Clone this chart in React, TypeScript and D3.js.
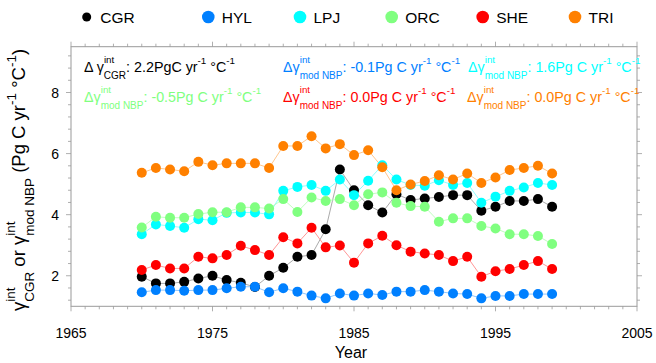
import React from "react";
import * as d3 from "d3";

const years = [1970, 1971, 1972, 1973, 1974, 1975, 1976, 1977, 1978, 1979, 1980, 1981, 1982, 1983, 1984, 1985, 1986, 1987, 1988, 1989, 1990, 1991, 1992, 1993, 1994, 1995, 1996, 1997, 1998, 1999];

const CGR = [1.97, 1.75, 1.75, 1.8, 1.91, 2.0, 1.86, 1.77, 1.63, 2.0, 2.26, 2.62, 2.68, 3.52, 5.48, 4.8, 4.31, 4.07, 4.67, 4.48, 4.53, 4.58, 4.64, 4.64, 4.13, 4.26, 4.45, 4.45, 4.51, 4.26];
const HYL = [1.46, 1.53, 1.53, 1.51, 1.53, 1.53, 1.59, 1.64, 1.64, 1.46, 1.59, 1.48, 1.35, 1.26, 1.42, 1.35, 1.42, 1.37, 1.48, 1.48, 1.53, 1.48, 1.42, 1.4, 1.26, 1.34, 1.34, 1.4, 1.4, 1.4];
const LPJ = [3.36, 3.68, 3.63, 3.57, 3.85, 3.82, 4.06, 4.07, 4.07, 4.01, 4.78, 4.91, 4.97, 4.78, 5.15, 4.64, 5.11, 5.62, 5.15, 4.97, 4.95, 5.13, 4.97, 5.04, 4.39, 4.59, 4.78, 4.89, 5.04, 4.97];
const ORC = [3.58, 3.93, 3.9, 3.9, 4.02, 4.08, 4.08, 4.24, 4.24, 4.2, 4.51, 4.09, 4.56, 4.45, 4.51, 4.31, 4.67, 4.73, 4.39, 4.28, 4.26, 3.77, 3.88, 3.88, 3.63, 3.55, 3.36, 3.36, 3.3, 3.04];
const SHE = [2.19, 2.35, 2.24, 2.24, 2.62, 2.57, 2.68, 2.98, 2.84, 2.68, 3.26, 3.06, 3.57, 2.93, 2.99, 2.43, 3.06, 3.31, 3.0, 2.79, 2.73, 2.68, 2.48, 2.62, 1.97, 2.15, 2.22, 2.35, 2.48, 2.22];
const TRI = [5.37, 5.53, 5.48, 5.42, 5.73, 5.62, 5.68, 5.68, 5.68, 5.53, 6.25, 6.25, 6.57, 6.17, 6.31, 5.95, 6.11, 5.55, 4.8, 4.99, 5.1, 5.29, 5.15, 5.35, 5.04, 5.22, 5.46, 5.53, 5.6, 5.35];

const seriesNames = ["CGR", "HYL", "LPJ", "ORC", "SHE", "TRI"];
const seriesValues = [CGR, HYL, LPJ, ORC, SHE, TRI];
const seriesColors = ["#000000", "#0080ff", "#00ffff", "#80ff80", "#ff0000", "#ff8000"];
const lineColors = ["#a0a0a0", "#80bfff", "#80ffff", "#b8ffb8", "#ff8a8a", "#ffbf80"];

const xMajorTicks = [1965, 1975, 1985, 1995, 2005];
const yMajorTicks = [2, 4, 6, 8];

const annotSubs = ["CGR", "mod NBP", "mod NBP", "mod NBP", "mod NBP", "mod NBP"];
const annotLeads = ["\u0394 \u03b3", "\u0394\u03b3", "\u0394\u03b3", "\u0394\u03b3", "\u0394\u03b3", "\u0394\u03b3"];
const annotValues = ["2.2PgC", "-0.1Pg C", "1.6Pg C", "-0.5Pg C", "0.0Pg C", "0.0Pg C"];
const annotX = [84, 283, 468, 84, 283, 467];
const annotRow = [0, 0, 0, 1, 1, 1];

const FONT = "'Liberation Sans', Arial, Helvetica, sans-serif";
const W = 656;
const H = 363;

export default function App() {
  const x = d3.scaleLinear().domain([1965, 2005]).range([71, 637]);
  const y = d3.scaleLinear().domain([1, 9.5]).range([306.3, 46.7]);
  const axisColor = "#9a9a9a";
  const xMinor = d3.range(1965, 2006, 1);
  const yMinor = d3.range(12, 95, 4).map((v) => v / 10);
  const [x0, x1] = x.range();
  const [yb, yt] = y.range();
  const line = (vals: number[]) =>
    d3.line<number>().x((_, i) => x(years[i])).y((v) => y(v))(vals) || "";

  const rowY = [71.7, 101.7];
  const intW = 10.4;

  return (
    <div style={{ position: "absolute", left: 0, top: 0 }}>
      <svg width={W} height={H} style={{ display: "block", background: "#fff" }} fontFamily={FONT}>
        <rect x={x0} y={yt} width={x1 - x0} height={yb - yt} fill="none" stroke={axisColor} strokeWidth={1} />
        {xMinor.map((t) => {
          const major = xMajorTicks.includes(t);
          const len = major ? 5 : 3;
          return (
            <g key={"xt" + t} stroke={axisColor} strokeWidth={0.8}>
              <line x1={x(t)} x2={x(t)} y1={yb} y2={yb + len} />
              <line x1={x(t)} x2={x(t)} y1={yt} y2={yt - len} />
            </g>
          );
        })}
        {yMinor.map((t) => {
          const major = yMajorTicks.some((m) => Math.abs(m - t) < 1e-6);
          const len = major ? 5 : 3;
          return (
            <g key={"yt" + t} stroke={axisColor} strokeWidth={0.8}>
              <line x1={x0} x2={x0 - len} y1={y(t)} y2={y(t)} />
              <line x1={x1} x2={x1 + len} y1={y(t)} y2={y(t)} />
            </g>
          );
        })}
        {xMajorTicks.map((t) => (
          <text key={"xl" + t} x={x(t)} y={338} textAnchor="middle" fontSize={14} fill="#000">
            {t}
          </text>
        ))}
        {yMajorTicks.map((t) => (
          <text key={"yl" + t} x={59} y={y(t)} dy="0.36em" textAnchor="end" fontSize={14} fill="#000">
            {t}
          </text>
        ))}
        <text x={351} y={358} textAnchor="middle" fontSize={16} fill="#000">
          Year
        </text>
        <text transform="translate(25,180) rotate(-90)" textAnchor="middle" fontSize={18.5} fill="#000">
          {"\u03b3"}
          <tspan dy={-10} fontSize={13.5}>int</tspan>
          <tspan dx={-14.2} dy={19} fontSize={13.5}>CGR</tspan>
          <tspan dy={-9}>{" or \u03b3"}</tspan>
          <tspan dy={-10} fontSize={13.5}>int</tspan>
          <tspan dx={-14.2} dy={19} fontSize={13.5}>mod NBP</tspan>
          <tspan dy={-9}>{" (Pg C yr"}</tspan>
          <tspan dy={-9} fontSize={13.5}>-1</tspan>
          <tspan dy={9}>{" \u00b0C"}</tspan>
          <tspan dy={-9} fontSize={13.5}>-1</tspan>
          <tspan dy={9}>)</tspan>
        </text>
        {seriesValues.map((vals, si) => (
          <path key={"ln" + si} d={line(vals)} fill="none" stroke={lineColors[si]} strokeWidth={0.9} />
        ))}
        {seriesValues.map((vals, si) => (
          <g key={"dt" + si} fill={seriesColors[si]}>
            {vals.map((v, i) => (
              <circle key={i} cx={x(years[i])} cy={y(v)} r={5} />
            ))}
          </g>
        ))}
        {seriesNames.map((n, i) => {
          const dotX = [86.7, 208.3, 300, 391.7, 482.7, 575][i];
          return (
            <g key={"lg" + n}>
              <circle cx={dotX} cy={17} r={i === 0 ? 4.5 : 6.3} fill={seriesColors[i]} />
              <text x={dotX + 13.5} y={23.3} fontSize={15.5} fill="#000">
                {n}
              </text>
            </g>
          );
        })}
        {annotValues.map((val, i) => (
          <text key={"an" + i} x={annotX[i]} y={rowY[annotRow[i]]} fontSize={14.3} fill={seriesColors[i]}>
            {annotLeads[i]}
            <tspan dy={-9} fontSize={9.8}>int</tspan>
            <tspan dx={-intW} dy={16.5} fontSize={10}>{annotSubs[i]}</tspan>
            <tspan dy={-7.5}>{": " + val + " yr"}</tspan>
            <tspan dy={-8} fontSize={9.8}>-1</tspan>
            <tspan dy={8}>{" \u00b0C"}</tspan>
            <tspan dy={-8} fontSize={9.8}>-1</tspan>
          </text>
        ))}
      </svg>
    </div>
  );
}
